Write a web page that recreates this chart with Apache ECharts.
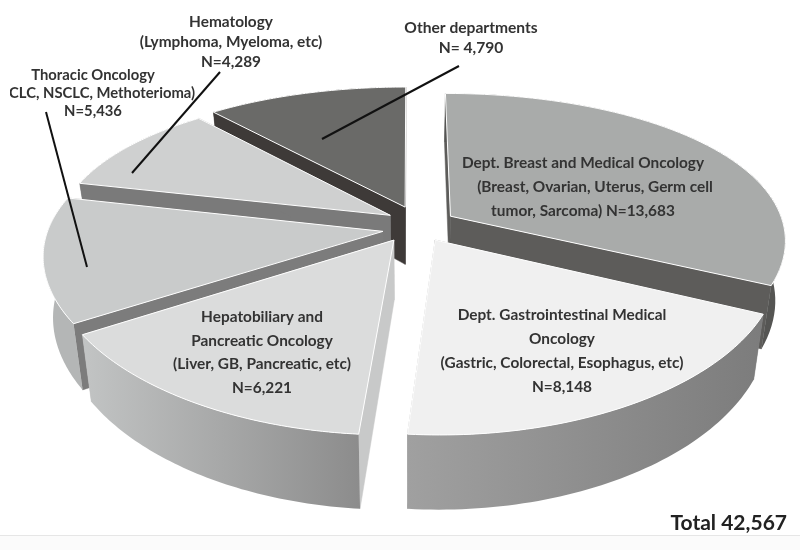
<!DOCTYPE html>
<html>
<head>
<meta charset="utf-8">
<style>html,body{margin:0;padding:0;background:#fff}#c{width:800px;height:550px}</style>
<script src="https://cdn.jsdelivr.net/npm/echarts@6/dist/echarts.min.js"></script>
</head>
<body>
<div id="c"></div>
<script>
// ---- data (clockwise from 12 o'clock) ----
const categories = ['Dept. Breast and Medical Oncology','Dept. Gastrointestinal Medical Oncology','Hepatobiliary and Pancreatic Oncology','Thoracic Oncology','Hematology','Other departments'];
const patientCounts = [13683, 8148, 6221, 5436, 4289, 4790];

// ---- label text ----
const labelBreast = ['Dept. Breast and Medical Oncology','(Breast, Ovarian, Uterus, Germ cell','tumor, Sarcoma) N=13,683'];
const labelGastro = ['Dept. Gastrointestinal Medical','Oncology','(Gastric, Colorectal, Esophagus, etc)','N=8,148'];
const labelHepato = ['Hepatobiliary and','Pancreatic Oncology','(Liver, GB, Pancreatic, etc)','N=6,221'];
const labelThoracic = ['Thoracic Oncology','(SCLC, NSCLC, Methoterioma)','N=5,436'];
const labelHematology = ['Hematology','(Lymphoma, Myeloma, etc)','N=4,289'];
const labelOther = ['Other departments','N= 4,790'];
const totalLabel = 'Total 42,567';

// ---- layout and style, kept apart from the data ----
const view = {vx:410, vy:-541, h:771, D:1700, R:335, thick:59, xPow:0.75, bottomShrink:0.027};
const sliceOffset = [[41,-31],[25,22],[-16,22],[-27,3],[-20,-33],[-5,-52]];
const drawRank = [3,6,5,4,2,1];
const topFill = ['#a9abaa','#f0f0f0','#dbdcdc','#c9cbcb','#cfd0d0','#6a6a68'];
const wallFill = ['#5d5c5a','#8a8a8a','#c8c9c9','#7c7c7c','#7a7a7a','#3e3a38'];
const rimFill = [
  ['#555553','#555553'],['#a0a0a0','#7c7c7c'],['#c2c4c4','#8c8c8c'],
  ['#b4b6b6','#b4b6b6'],['#7a7a7a','#7a7a7a'],['#3e3a38','#3e3a38']
];
const textBlocks = [
  {lines:labelBreast, xs:[583,595,583], y:163, step:24, size:15.4},
  {lines:labelGastro, xs:[562,562,562,562], y:315, step:24, size:15.4},
  {lines:labelHepato, xs:[262,262,262,262], y:317, step:23.7, size:15.4},
  {lines:labelThoracic, xs:[93,96,93], y:75, step:18.2, size:14.8},
  {lines:labelHematology, xs:[231,231,231], y:22, step:20, size:15.4},
  {lines:labelOther, xs:[471,471], y:28, step:20, size:15.6}
];
const leaders = [[46,112,87,267],[220,72,132,173],[459,66,322,139]];

function project(X, Y, Z) {
  const s = view.D / (view.D - Y);
  const sx = Math.pow(s, view.xPow) * (1 - view.bottomShrink * Z / view.thick);
  return [view.vx + X * sx, view.vy + view.h * s + Z * s];
}

const total = patientCounts.reduce((a, b) => a + b, 0);

function renderSlice(params, api) {
  const i = params.dataIndex;
  const v = api.value(0);
  let before = 0;
  for (let k = 0; k < i; k++) before += patientCounts[k];
  const a1 = before / total * 2 * Math.PI;
  const a2 = (before + v) / total * 2 * Math.PI;
  const ox = sliceOffset[i][0], oy = sliceOffset[i][1];
  const world = a => [ox + view.R * Math.sin(a), oy - view.R * Math.cos(a)];
  const steps = 60;
  const topArc = [], botArc = [];
  for (let k = 0; k <= steps; k++) {
    const a = a1 + (a2 - a1) * k / steps;
    const w = world(a);
    topArc.push(project(w[0], w[1], 0));
    botArc.push(project(w[0], w[1], view.thick));
  }
  const apexT = project(ox, oy, 0), apexB = project(ox, oy, view.thick);
  const base = drawRank[i] * 10;
  const wall = (t, b) => ({
    type:'polygon', z2:base, shape:{points:[apexT, t, b, apexB]},
    style:{fill:wallFill[i], stroke:wallFill[i], lineWidth:0.5}
  });
  return {
    type:'group',
    children:[
      wall(topArc[0], botArc[0]),
      wall(topArc[steps], botArc[steps]),
      {
        type:'polygon', z2:base + 1,
        shape:{points:topArc.concat(botArc.slice().reverse())},
        style:{fill:{type:'linear',x:0,y:0,x2:1,y2:0,colorStops:[
          {offset:0,color:rimFill[i][0]},{offset:1,color:rimFill[i][1]}]}}
      },
      {
        type:'polygon', z2:base + 2,
        shape:{points:[apexT].concat(topArc)},
        style:{fill:topFill[i], stroke:'#ffffff', lineWidth:1, lineJoin:'round'}
      }
    ]
  };
}

const graphics = [];
graphics.push({type:'rect', z:1, shape:{x:0,y:535,width:800,height:15}, style:{fill:'#fbfbfb'}});
graphics.push({type:'rect', z:1, shape:{x:0,y:535,width:800,height:1}, style:{fill:'#e6e6e6'}});
leaders.forEach(l => graphics.push({type:'line', z:20, shape:{x1:l[0],y1:l[1],x2:l[2],y2:l[3]}, style:{stroke:'#111',lineWidth:2}}));
textBlocks.forEach(b => b.lines.forEach((t, j) => graphics.push({
  type:'text', z:30, x:b.xs[j], y:b.y + j * b.step,
  style:{text:t, fill:'#333333', font:'700 ' + b.size + 'px Lato, "Open Sans", sans-serif', textAlign:'center', textVerticalAlign:'middle'}
})));
graphics.push({type:'rect', z:31, shape:{x:0,y:84,width:10,height:20}, style:{fill:'#ffffff'}});
graphics.push({type:'text', z:30, x:787, y:523, style:{text:totalLabel, fill:'#222', font:'700 21px Lato, "Open Sans", sans-serif', textAlign:'right', textVerticalAlign:'middle'}});

const chart = echarts.init(document.getElementById('c'), null, {renderer:'canvas'});
chart.setOption({
  animation:false,
  backgroundColor:'#ffffff',
  graphic:{elements:graphics},
  series:[{
    type:'custom', coordinateSystem:'none', z:10, silent:true,
    renderItem:renderSlice,
    data:patientCounts.map((v, i) => ({name:categories[i], value:[v]}))
  }]
});
</script>
</body>
</html>
